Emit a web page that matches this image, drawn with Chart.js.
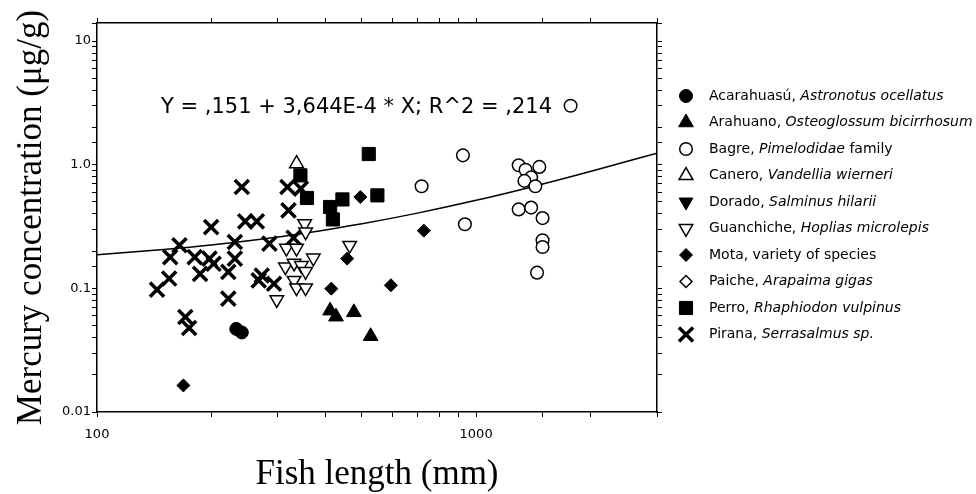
<!DOCTYPE html>
<html>
<head>
<meta charset="utf-8">
<script src="https://cdn.jsdelivr.net/npm/chart.js@4.4.1/dist/chart.umd.min.js"></script>
<style>
  html, body { margin: 0; padding: 0; background: #fff; }
  #wrap { width: 976px; height: 494px; }
</style>
</head>
<body>
<div id="wrap"><canvas id="fishChart"></canvas></div>
<script>
// length (mm) and mercury (ug/g), one pair per species
const acarahuasuLen = [233, 241];
const acarahuasuHg = [0.047, 0.044];
const arahuanoLen = [412, 427, 476, 527];
const arahuanoHg = [0.066, 0.059, 0.064, 0.041];
const bagreLen = [1775, 923, 718, 934, 1295, 1350, 1468, 1397, 1341, 1433, 1295, 1397, 1497, 1497, 1497, 1448];
const bagreHg = [3.0, 1.19, 0.67, 0.33, 0.99, 0.91, 0.96, 0.79, 0.74, 0.67, 0.435, 0.45, 0.37, 0.245, 0.216, 0.134];
const caneroLen = [336];
const caneroHg = [1.02];
const doradoLen = [];
const doradoHg = [];
const guanchicheLen = [353, 355, 464, 316, 336, 372, 314, 331, 346, 355, 331, 336, 355, 298];
const guanchicheHg = [0.333, 0.286, 0.223, 0.211, 0.211, 0.176, 0.149, 0.160, 0.153, 0.137, 0.116, 0.101, 0.101, 0.081];
const motaLen = [495, 728, 457, 415, 596, 169];
const motaHg = [0.548, 0.293, 0.174, 0.0995, 0.106, 0.0164];
const paicheLen = [];
const paicheHg = [];
const perroLen = [521, 344, 358, 549, 444, 412, 419];
const perroHg = [1.22, 0.82, 0.538, 0.565, 0.524, 0.455, 0.361];
const piranaLen = [241, 318, 345, 320, 246, 264, 200, 231, 285, 330, 165, 156, 181, 198, 203, 231, 187, 155, 222, 272, 293, 267, 144, 222, 171, 175];
const piranaHg = [0.66, 0.66, 0.64, 0.427, 0.348, 0.348, 0.313, 0.237, 0.230, 0.256, 0.223, 0.179, 0.179, 0.174, 0.158, 0.174, 0.131, 0.120, 0.136, 0.127, 0.109, 0.116, 0.0976, 0.0826, 0.0587, 0.0478];

// fitted curve
const fitLen = [100, 150, 200, 300, 400, 500, 700, 1000, 1400, 2000, 3000];
const fitHg = [0.187, 0.206, 0.224, 0.26, 0.297, 0.333, 0.406, 0.515, 0.661, 0.88, 1.24];

const xTickValues = [100, 1000];
const xTickText = ['100', '1000'];
const yTickValues = [0.01, 0.1, 1, 10];
const yTickText = ['0.01', '0.1', '1.0', '10'];

const equationText = 'Y = ,151 + 3,644E-4 * X; R^2 = ,214';

// legend text pieces: [text, italic]
const legendLabels = [
  [['Acarahuasú, ', false], ['Astronotus ocellatus', true]],
  [['Arahuano, ', false], ['Osteoglossum bicirrhosum', true]],
  [['Bagre, ', false], ['Pimelodidae', true], [' family', false]],
  [['Canero, ', false], ['Vandellia wierneri', true]],
  [['Dorado, ', false], ['Salminus hilarii', true]],
  [['Guanchiche, ', false], ['Hoplias microlepis', true]],
  [['Mota, variety of species', false]],
  [['Paiche, ', false], ['Arapaima gigas', true]],
  [['Perro, ', false], ['Rhaphiodon vulpinus', true]],
  [['Pirana, ', false], ['Serrasalmus sp.', true]]
];

function pts(xs, ys) {
  return xs.map((x, i) => ({ x: x, y: ys[i] }));
}

function tickLabel(v, values, texts) {
  for (let i = 0; i < values.length; i++) {
    if (Math.abs(Math.log10(v) - Math.log10(values[i])) < 1e-6) return texts[i];
  }
  return '';
}

function marker(label, data, style, radius, filled, extra) {
  return Object.assign({
    label: label,
    data: data,
    pointStyle: style,
    pointRadius: radius,
    pointBackgroundColor: filled ? '#000' : '#fff',
    pointBorderColor: '#000',
    pointBorderWidth: filled ? 1 : 1.5,
    pointRotation: 0
  }, extra || {});
}

const datasets = [
  marker('Acarahuasú', pts(acarahuasuLen, acarahuasuHg), 'circle', 6.5, true),
  marker('Arahuano', pts(arahuanoLen, arahuanoHg), 'triangle', 8.5, true),
  marker('Bagre', pts(bagreLen, bagreHg), 'circle', 6.3, false),
  marker('Canero', pts(caneroLen, caneroHg), 'triangle', 8, false),
  marker('Dorado', pts(doradoLen, doradoHg), 'triangle', 8, true, { pointRotation: 180 }),
  marker('Guanchiche', pts(guanchicheLen, guanchicheHg), 'triangle', 7.8, false, { pointRotation: 180 }),
  marker('Mota', pts(motaLen, motaHg), 'rectRot', 6.5, true),
  marker('Paiche', pts(paicheLen, paicheHg), 'rectRot', 6, false),
  marker('Perro', pts(perroLen, perroHg), 'rect', 9.3, true),
  marker('Pirana', pts(piranaLen, piranaHg), 'crossRot', 10, true, { pointBorderWidth: 3.5 }),
  {
    label: 'fit',
    data: pts(fitLen, fitHg),
    showLine: true,
    borderColor: '#000',
    borderWidth: 1.5,
    pointRadius: 0,
    fill: false,
    cubicInterpolationMode: 'monotone'
  }
];

// equation text and the two-font legend
const overlayPlugin = {
  id: 'overlay',
  afterDraw(chart) {
    const ctx = chart.ctx;
    ctx.save();
    ctx.fillStyle = '#000';
    ctx.textBaseline = 'middle';
    ctx.font = '21px "DejaVu Sans"';
    ctx.fillText(equationText, 161, 108);

    legendLabels.forEach((parts, i) => {
      const ds = chart.data.datasets[i];
      const y = 96 + i * 26.5;
      ctx.save();
      ctx.fillStyle = ds.pointBackgroundColor;
      ctx.strokeStyle = ds.pointBorderColor;
      ctx.lineWidth = ds.pointBorderWidth;
      Chart.helpers.drawPoint(ctx, {
        pointStyle: ds.pointStyle,
        radius: ds.pointRadius,
        rotation: ds.pointRotation,
        borderWidth: ds.pointBorderWidth
      }, 686, y);
      ctx.restore();
      let x = 709;
      parts.forEach(p => {
        ctx.font = (p[1] ? 'italic ' : '') + '14px "DejaVu Sans"';
        ctx.fillText(p[0], x, y);
        x += ctx.measureText(p[0]).width;
      });
    });
    ctx.restore();
  }
};

const axisLine = { display: true, color: '#000', width: 1.5 };
const tickMarks = { drawOnChartArea: false, drawTicks: true, tickLength: 5, color: '#000', lineWidth: 1 };

new Chart(document.getElementById('fishChart'), {
  type: 'scatter',
  data: { datasets: datasets },
  options: {
    responsive: true,
    maintainAspectRatio: false,
    animation: false,
    events: [],
    layout: { padding: 0 },
    plugins: { legend: { display: false }, tooltip: { enabled: false } },
    scales: {
      x: {
        type: 'logarithmic',
        position: 'bottom',
        min: 100,
        max: 3000,
        border: axisLine,
        grid: tickMarks,
        ticks: {
          autoSkip: false,
          maxRotation: 0,
          padding: 10,
          color: '#000',
          font: { family: 'DejaVu Sans', size: 13 },
          callback: v => tickLabel(v, xTickValues, xTickText)
        },
        title: {
          display: true,
          text: 'Fish length (mm)',
          color: '#000',
          font: { family: 'Liberation Serif', size: 35, lineHeight: 1.1 },
          padding: 0
        },
        afterFit: s => { s.height = 82; }
      },
      x2: {
        type: 'logarithmic',
        position: 'top',
        min: 100,
        max: 3000,
        border: axisLine,
        grid: tickMarks,
        ticks: { display: false, autoSkip: false },
        afterFit: s => { s.height = 23; }
      },
      y: {
        type: 'logarithmic',
        position: 'left',
        min: 0.01,
        max: 14,
        border: axisLine,
        grid: tickMarks,
        ticks: {
          autoSkip: false,
          padding: 1,
          color: '#000',
          font: { family: 'DejaVu Sans', size: 13 },
          callback: v => tickLabel(v, yTickValues, yTickText)
        },
        title: {
          display: true,
          text: 'Mercury concentration (μg/g)',
          color: '#000',
          font: { family: 'Liberation Serif', size: 35, lineHeight: 1.1 },
          padding: { top: 13, bottom: 0 }
        },
        afterFit: s => { s.width = 97; }
      },
      y2: {
        type: 'logarithmic',
        position: 'right',
        min: 0.01,
        max: 14,
        border: axisLine,
        grid: tickMarks,
        ticks: { display: false, autoSkip: false },
        afterFit: s => { s.width = 319; }
      }
    }
  },
  plugins: [overlayPlugin]
});
</script>
</body>
</html>
